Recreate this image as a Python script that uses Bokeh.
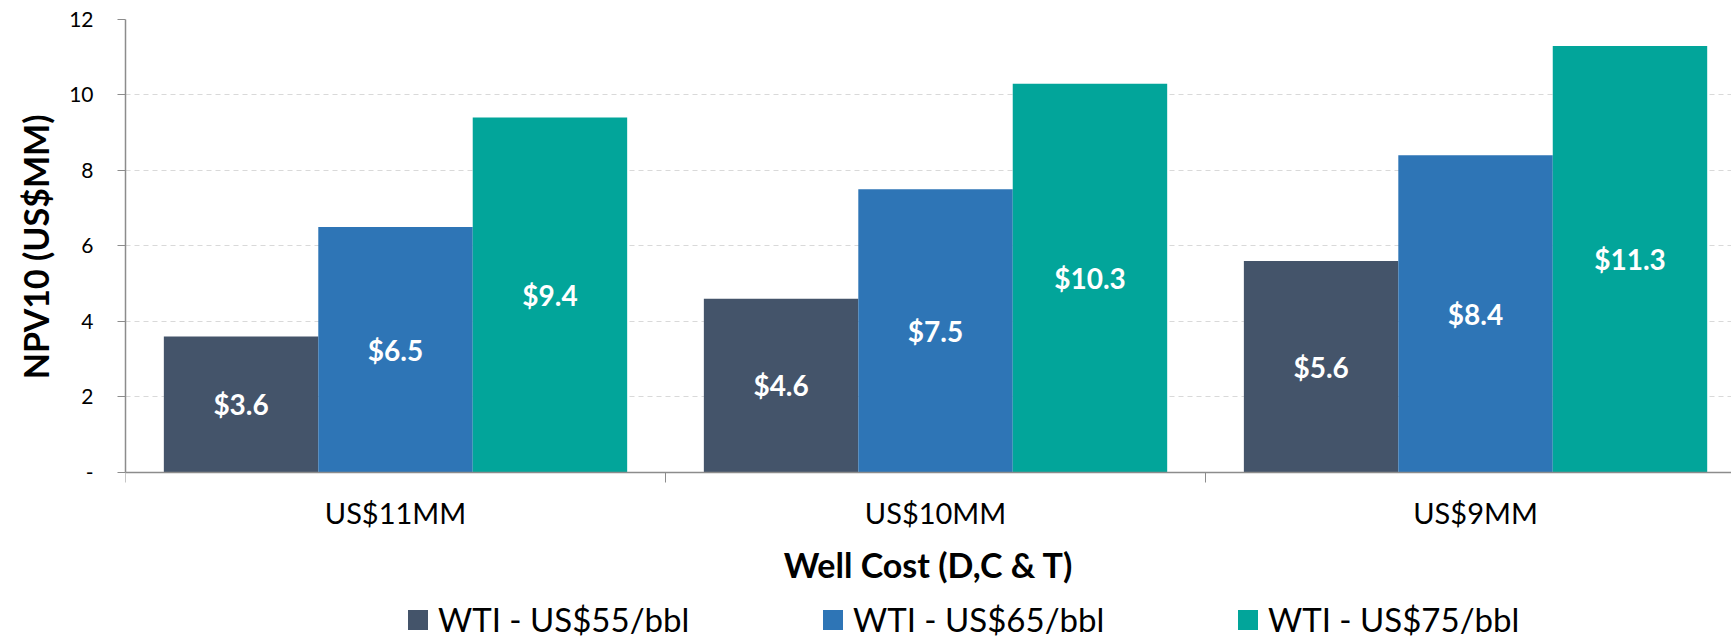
from bokeh.plotting import figure
from bokeh.models import Range1d, FixedTicker, Legend, LegendItem, ColumnDataSource, Title
from bokeh.core.properties import value
from bokeh.embed import file_html
from bokeh.resources import INLINE

# ---- data ----
categories = ["US$11MM", "US$10MM", "US$9MM"]
series_names = ["WTI - US$55/bbl", "WTI - US$65/bbl", "WTI - US$75/bbl"]
wti55 = [3.6, 4.6, 5.6]
wti65 = [6.5, 7.5, 8.4]
wti75 = [9.4, 10.3, 11.3]
y_ticks = [0, 2, 4, 6, 8, 10, 12]
y_tick_labels = ["-", "2", "4", "6", "8", "10", "12"]
y_title = "NPV10 (US$MM)"
x_title = "Well Cost (D,C & T)"

colors = ["#44546A", "#2E75B6", "#02A59A"]
series = [wti55, wti65, wti75]

FONT = "Lato"
AXIS_GRAY = "#8C8C8C"

bar_w = 0.286
offsets = [-bar_w, 0.0, bar_w]
centers = [i + 0.5 for i in range(len(categories))]

# frame reaches the bottom of the page; the x axis sits at y = 0 and the
# space below it (axis labels, title, legend) lies inside the frame
p = figure(width=1731, height=640, output_backend="svg", toolbar_location=None,
           x_range=Range1d(0, 2.974), y_range=Range1d(-4.46, 12),
           min_border_left=125, min_border_top=19, min_border_bottom=0,
           min_border_right=0)
p.outline_line_color = None
p.background_fill_color = "white"
p.border_fill_color = "white"

renderers = []
for vals, col, off in zip(series, colors, offsets):
    src = ColumnDataSource(dict(
        x=[c + off for c in centers],
        top=vals,
        mid=[v / 2 for v in vals],
        lab=["$%.1f" % v for v in vals],
    ))
    r = p.vbar(x="x", top="top", bottom=0, width=bar_w, source=src,
               fill_color=col, line_color=None)
    renderers.append(r)
    p.text(x="x", y="mid", text="lab", source=src, text_color="white",
           text_font=value(FONT), text_font_style="bold", text_font_size="28px",
           text_align="center", text_baseline="middle")

# grid
p.xgrid.visible = False
p.ygrid.ticker = FixedTicker(ticks=y_ticks)
p.ygrid.grid_line_color = "#D9D9D9"
p.ygrid.grid_line_dash = "5 4"
p.ygrid.grid_line_width = 1

# y axis
ya = p.yaxis[0]
ya.bounds = (y_ticks[0], y_ticks[-1])
ya.ticker = FixedTicker(ticks=y_ticks)
ya.major_label_overrides = {t: l for t, l in zip(y_ticks, y_tick_labels)}
ya.axis_line_color = AXIS_GRAY
ya.axis_line_width = 1.5
ya.major_tick_line_color = AXIS_GRAY
ya.major_tick_line_width = 1
ya.major_tick_in = 0
ya.major_tick_out = 8
ya.minor_tick_line_color = None
ya.major_label_text_font = FONT
ya.major_label_text_font_size = "21px"
ya.major_label_text_color = "#000000"
ya.major_label_standoff = 24

# y axis title, placed beside the upper (0..12) part of the frame
p.add_layout(Title(text=y_title, align="right", offset=95, vertical_align="middle",
                   standoff=20, text_font=FONT, text_font_style="bold",
                   text_font_size="34px", text_color="#000000"), "left")

# x axis, drawn at y = 0
xa = p.xaxis[0]
xa.fixed_location = 0
xa.ticker = FixedTicker(ticks=centers, minor_ticks=list(range(len(categories) + 1)))
xa.major_label_overrides = {c: n for c, n in zip(centers, categories)}
xa.axis_line_color = AXIS_GRAY
xa.axis_line_width = 1.5
xa.major_tick_line_color = None
xa.major_tick_in = 0
xa.major_tick_out = 0
xa.minor_tick_line_color = AXIS_GRAY
xa.minor_tick_line_width = 1
xa.minor_tick_in = 0
xa.minor_tick_out = 10
xa.major_label_text_font = FONT
xa.major_label_text_font_size = "29px"
xa.major_label_text_color = "#000000"
xa.major_label_standoff = 13
xa.axis_label = x_title
xa.axis_label_text_font = FONT
xa.axis_label_text_font_style = "bold"
xa.axis_label_text_font_size = "34px"
xa.axis_label_text_color = "#000000"
xa.axis_label_standoff = 10

# legend at the bottom of the frame
items = [LegendItem(label=n, renderers=[r]) for n, r in zip(series_names, renderers)]
legend = Legend(items=items, orientation="horizontal", location=(280, 1),
                glyph_width=25, glyph_height=25, label_standoff=8,
                label_width=252, spacing=130, padding=0, margin=0,
                border_line_color=None, background_fill_alpha=0,
                label_text_font=FONT, label_text_font_size="33px",
                label_text_color="#000000")
p.add_layout(legend, "center")

open("out.html", "w").write(file_html(p, INLINE))
